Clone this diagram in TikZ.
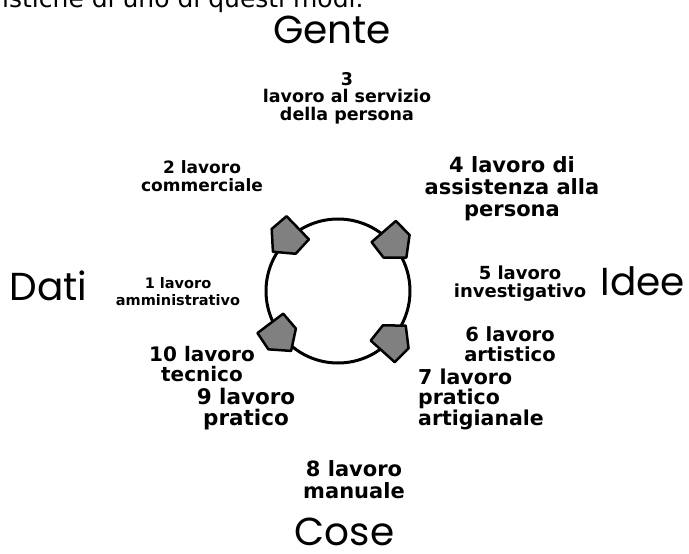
\documentclass[tikz,border=0pt]{standalone}
\usepackage{fontspec}
\setmainfont{DejaVu Sans}
\newfontfamily\bigfont{Poppins}
\tikzset{
  big/.style={font=\bigfont\fontsize{39}{41}\selectfont, inner sep=0pt, anchor=base},
  hand/.style 2 args={font=\bfseries\fontsize{#1}{#2}\selectfont, align=center, inner sep=0pt},
  ringstyle/.style={draw=black, circle, line width=3pt, inner sep=0pt, minimum size=144pt},
  arrowhd/.style={fill=black!50, draw=black, line width=2.5pt, line join=round, scale=1.15}
}
\begin{document}
\begin{tikzpicture}[x=1pt,y=-1pt]
\useasboundingbox (0,0) rectangle (689,554);
\fill[white] (0,0) rectangle (689,554);

\node[font=\fontsize{25}{27}\selectfont, anchor=base west, inner sep=0pt] (intro) at (2,8) {istiche di uno di questi modi.};

\node[big] (gente) at (332,43) {Gente};
\node[big] (dati) at (48.5,300) {Dati};
\node[big] (idee) at (643,295) {Idee};
\node[big] (cose) at (344.5,545) {Cose};

\node[ringstyle] (ring) at (338,291) {};
\draw[arrowhd, shift={(ring.134)}, rotate=224] (-13,-14) -- (4,-15) -- (17,0) -- (4,15) -- (-13,14) -- cycle;
\draw[arrowhd, shift={(ring.41)}, rotate=-49] (-13,-14) -- (4,-15) -- (17,0) -- (4,15) -- (-13,14) -- cycle;
\draw[arrowhd, shift={(ring.217)}, rotate=307] (-13,-14) -- (4,-15) -- (17,0) -- (4,15) -- (-13,14) -- cycle;
\draw[arrowhd, shift={(ring.318)}, rotate=48] (-13,-14) -- (4,-15) -- (17,0) -- (4,15) -- (-13,14) -- cycle;

\node[hand={17.5}{17.5}] (l3) at (347,98) {3\\lavoro al servizio\\della persona};
\node[hand={17}{18}] (l2) at (202,176.5) {2 lavoro\\commerciale};
\node[hand={21}{22}] (l4) at (512,189) {4 lavoro di\\assistenza alla\\persona};
\node[hand={14.5}{17}] (l1) at (178,291.5) {1 lavoro\\amministrativo};
\node[hand={18}{18}] (l5) at (520,284) {5 lavoro\\investigativo};
\node[hand={19.5}{19.5}] (l6) at (510,344) {6 lavoro\\artistico};
\node[hand={20.5}{20.5}, align=left, anchor=west] (l7) at (418,399) {7 lavoro\\pratico\\artigianale};
\node[hand={20}{20}] (l10) at (202,364) {10 lavoro\\tecnico};
\node[hand={21.5}{21.5}] (l9) at (246,409) {9 lavoro\\pratico};
\node[hand={21}{22}] (l8) at (354,480) {8 lavoro\\manuale};
\end{tikzpicture}
\end{document}
